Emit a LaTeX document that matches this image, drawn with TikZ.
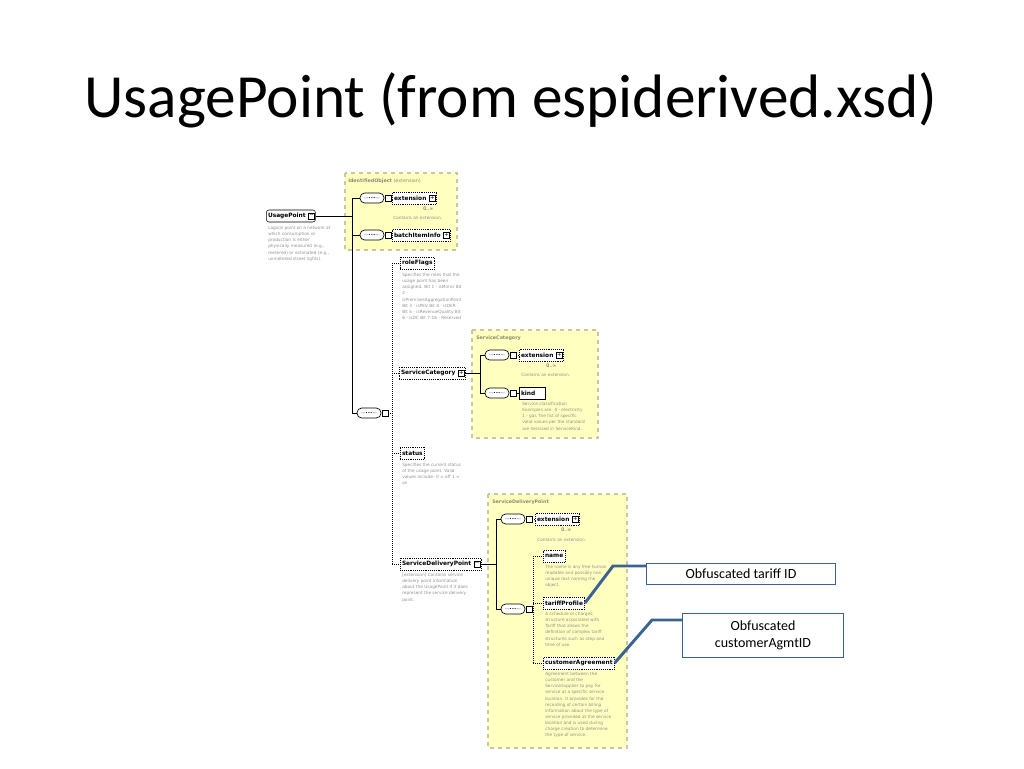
\documentclass[tikz,border=0pt]{standalone}
\usepackage{fontspec}
\setmainfont{Carlito}
\newfontfamily\dv{DejaVu Sans}
\usetikzlibrary{calc}
\definecolor{grp}{HTML}{FFFFC0}
\definecolor{grpb}{HTML}{C8C8A0}
\definecolor{dsc}{HTML}{909090}
\definecolor{call}{HTML}{3B6392}
\newcommand{\gap}{\hspace*{6pt}}
\begin{document}
\begin{tikzpicture}[x=0.75pt,y=-0.75pt,
 grpbox/.style={draw=grpb,fill=grp,dashed,line width=0.8pt},
 grplbl/.style={anchor=west,font=\dv\fontsize{3.6}{4}\selectfont\bfseries,text=grpb!70!black,inner sep=0},
 elem/.style={draw,fill=white,anchor=west,font=\dv\fontsize{4.4}{5}\selectfont\bfseries,inner sep=1.3pt,minimum height=9pt,line width=0.4pt},
 opt/.style={elem,densely dotted},
 dsc/.style={anchor=north west,font=\dv\fontsize{3.2}{4.6}\selectfont,text=dsc,align=left,inner sep=0},
 seq/.style={draw,fill=white,rounded corners=3.5pt,minimum width=18pt,minimum height=7.5pt,inner sep=0,font=\dv\fontsize{3}{3}\selectfont,line width=0.5pt},
 lnk/.style={line width=0.5pt},
 dl/.style={densely dotted,line width=0.5pt},
 sq/.style={draw,fill=white,minimum size=4.5pt,inner sep=0,font=\dv\fontsize{4}{4}\selectfont,line width=0.4pt},
 callbox/.style={draw=call,line width=0.8pt,fill=white,font=\fontsize{10.5}{12.5}\selectfont,align=center},
 callln/.style={draw=call,line width=2.2pt}]
\useasboundingbox (0,0) rectangle (1024,768);
\node[font=\fontsize{46}{50}\selectfont] (title) at (511,100) {UsagePoint (from espiderived.xsd)};

% groups
\draw[grpbox] (345,173) rectangle (457,250);
\node[grplbl] (g1) at (348,181) {IdentifiedObject \textmd{(extension)}};
\draw[grpbox] (472,330) rectangle (598,438);
\node[grplbl] (g2) at (476,338) {ServiceCategory};
\draw[grpbox] (488,494) rectangle (627,748);
\node[grplbl] (g3) at (492,502) {ServiceDeliveryPoint};

% UsagePoint
\node[elem,rounded corners=2pt] (up) at (266,216) {UsagePoint\gap};
\node[sq] (upm) at ($(up.east)+(-4,0)$) {--};
\node[dsc] (upd) at (268,226) {Logical point on a network at\\which consumption or\\production is either\\physically measured (e.g.,\\metered) or estimated (e.g.,\\unmetered street lights).};

\coordinate (v1t) at (352,198);
\coordinate (v1b) at (352,413);
\coordinate (v1m) at (352,216);
\draw[lnk] (up.east) -- (v1m);
\draw[lnk] (v1t) -- (v1b);

% seq 1
\node[seq] (s1) at (372,198) {---•••---};
\node[sq] (s1q) at (388,198) {};
\draw[lnk] (v1t) -- (s1.west);
\node[opt] (ext1) at (392,198) {extension\gap};
\node[sq] (ext1p) at ($(ext1.east)+(-4,0)$) {+};
\draw[dl] (s1q.east) -- (ext1.west);
\node[dsc,font=\dv\fontsize{3.6}{4}\selectfont,text=black!70] (ext1c) at (423,207) {0..∞};
\node[dsc] (ext1d) at (393,216) {Contains an extension.};

\node[seq] (s2) at (372,235) {---•••---};
\node[sq] (s2q) at (388,235) {};
\draw[lnk] (352,235) -- (s2.west);
\node[opt] (bii) at (392,235) {batchItemInfo\gap};
\node[sq] (biip) at ($(bii.east)+(-4,0)$) {+};
\draw[dl] (s2q.east) -- (bii.west);

% seq 3
\node[seq] (s3) at (369,413) {---•••---};
\node[sq] (s3q) at (385,413) {};
\draw[lnk] (v1b) -- (s3.west);
\coordinate (v2t) at (392,263);
\coordinate (v2b) at (392,564);
\draw[dl] (v2t) -- (v2b);
\draw[dl] (s3q.east) -- (392,413);

\node[opt] (rf) at (400,263) {roleFlags};
\draw[dl] (v2t) -- (rf.west);
\node[dsc] (rfd) at (402,273) {Specifies the roles that the\\usage point has been\\assigned. Bit 1 - isMirror Bit\\2 -\\isPremisesAggregationPoint\\Bit 3 - isPEV Bit 4 - isDER\\Bit 5 - isRevenueQuality Bit\\6 - isDC Bit 7-16 - Reserved};

\node[opt] (sc) at (399,373) {ServiceCategory\gap};
\node[sq] (scp) at ($(sc.east)+(-4,0)$) {+};
\draw[dl] (392,373) -- (sc.west);
\coordinate (v3t) at (480,355);
\coordinate (v3b) at (480,393);
\draw[lnk] (sc.east) -- (480,373);
\draw[lnk] (v3t) -- (v3b);
\node[seq] (s4) at (497,355) {---•••---};
\node[sq] (s4q) at (513,355) {};
\draw[lnk] (v3t) -- (s4.west);
\node[opt] (ext2) at (519,355) {extension\gap};
\node[sq] (ext2p) at ($(ext2.east)+(-4,0)$) {+};
\draw[dl] (s4q.east) -- (ext2.west);
\node[dsc,font=\dv\fontsize{3.6}{4}\selectfont,text=black!70] (ext2c) at (546,364) {0..∞};
\node[dsc] (ext2d) at (521,373) {Contains an extension.};
\node[seq] (s5) at (497,393) {---•••---};
\node[sq] (s5q) at (513,393) {};
\draw[lnk] (v3b) -- (s5.west);
\node[elem] (kind) at (519,393) {kind\gap};
\draw[lnk] (s5q.east) -- (kind.west);
\node[dsc] (kindd) at (522,402) {Service classification\\Examples are: 0 - electricity\\1 - gas The list of specific\\valid values per the standard\\are itemized in ServiceKind.};

\node[opt] (st) at (400,453) {status};
\draw[dl] (392,453) -- (st.west);
\node[dsc] (std) at (402,463) {Specifies the current status\\of the usage point. Valid\\values include: 0 = off 1 =\\on};

\node[opt] (sdp) at (400,564) {ServiceDeliveryPoint\gap};
\node[sq] (sdpm) at ($(sdp.east)+(-4,0)$) {--};
\draw[dl] (v2b) -- (sdp.west);
\node[dsc] (sdpd) at (402,573) {[extension] Contains service\\delivery point information\\about the UsagePoint if it does\\represent the service delivery\\point.};

\coordinate (v4t) at (496,519);
\coordinate (v4b) at (496,609);
\draw[lnk] (sdp.east) -- (496,564);
\draw[lnk] (v4t) -- (v4b);
\node[seq] (s6) at (513,519) {---•••---};
\node[sq] (s6q) at (529,519) {};
\draw[lnk] (v4t) -- (s6.west);
\node[opt] (ext3) at (535,519) {extension\gap};
\node[sq] (ext3p) at ($(ext3.east)+(-4,0)$) {+};
\draw[dl] (s6q.east) -- (ext3.west);
\node[dsc,font=\dv\fontsize{3.6}{4}\selectfont,text=black!70] (ext3c) at (561,528) {0..∞};
\node[dsc] (ext3d) at (537,538) {Contains an extension.};

\node[seq] (s7) at (513,609) {---•••---};
\node[sq] (s7q) at (529,609) {};
\draw[lnk] (v4b) -- (s7.west);
\coordinate (v5t) at (533,556);
\coordinate (v5b) at (533,663);
\draw[dl] (v5t) -- (v5b);
\draw[dl] (s7q.east) -- (533,609);
\node[opt] (nm) at (543,556) {name};
\draw[dl] (v5t) -- (nm.west);
\node[dsc] (nmd) at (545,565) {The name is any free human\\readable and possibly non\\unique text naming the\\object.};
\node[opt] (tp) at (543,603) {tariffProfile};
\draw[dl] (533,603) -- (tp.west);
\node[dsc] (tpd) at (545,612) {A schedule of charges;\\structure associated with\\Tariff that allows the\\definition of complex tariff\\structures such as step and\\time of use.};
\node[opt] (ca) at (543,663) {customerAgreement};
\draw[dl] (v5b) -- (ca.west);
\node[dsc] (cad) at (545,672) {Agreement between the\\customer and the\\ServiceSupplier to pay for\\service at a specific service\\location. It provides for the\\recording of certain billing\\information about the type of\\service provided at the service\\location and is used during\\charge creation to determine\\the type of service.};

% callouts
\node[callbox,minimum width=142pt,minimum height=16pt] (c1) at (741,574) {Obfuscated tariff ID};
\node[callbox,minimum width=121pt,minimum height=33pt] (c2) at (763,635.5) {Obfuscated\\customerAgmtID};
\coordinate (k1) at (613,566);
\coordinate (k2) at (652,620);
\draw[callln] (tp.east) -- (k1) -- (c1.west |- k1);
\draw[callln] (ca.east) -- (k2) -- (c2.west |- k2);
\end{tikzpicture}
\end{document}
